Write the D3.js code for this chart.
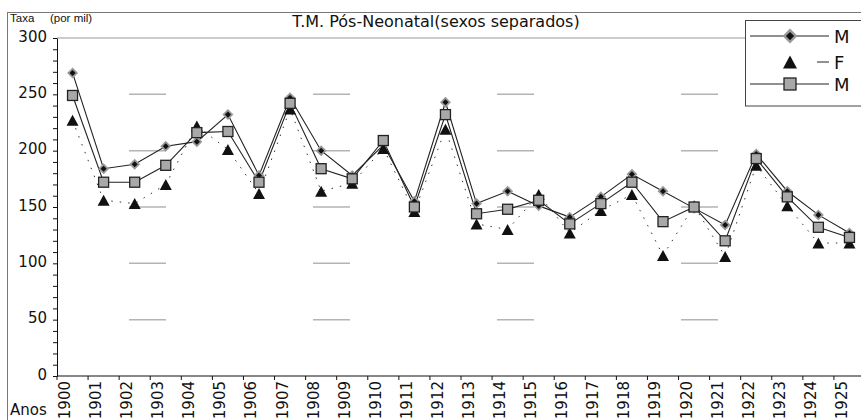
<!DOCTYPE html>
<html>
<head>
<meta charset="utf-8">
<script src="https://cdn.jsdelivr.net/npm/d3@7"></script>
<style>
  html, body { margin: 0; padding: 0; background: #fff; }
  svg { display: block; }
  text { font-family: "DejaVu Sans", sans-serif; fill: #111; }
</style>
</head>
<body>
<svg id="chart" width="861" height="420"></svg>
<script>
// ---- data ----
const years = ["1900","1901","1902","1903","1904","1905","1906","1907","1908","1909","1910","1911","1912",
               "1913","1914","1915","1916","1917","1918","1919","1920","1921","1922","1923","1924","1925"];
const maleA = [269,184,188,204,208,232,178,247,200,178,205,155,243,153,164,151,141,159,179,164,149,134,197,164,143,127];
const female = [227,156,153,170,222,201,162,237,164,171,202,146,219,135,130,161,127,147,161,107,151,106,187,151,118,118];
const maleB = [249,172,172,187,216,217,172,242,184,175,209,150,232,144,148,156,135,153,172,137,150,120,193,159,132,123];
const yTicks = d3.range(0, 301, 10);
const gridValues = [50, 100, 150, 200, 250];
const legendLabels = ["M", "F", "M"];
const titleText = "T.M. Pós-Neonatal(sexos separados)";
const yTitle1 = "Taxa", yTitle2 = "(por mil)", xTitle = "Anos";

(function () {
// ---- layout ----
const svg = d3.select("#chart");
const pLeft = 57, pRight = 865, pTop = 38, pBottom = 376;
const x = d3.scaleBand().domain(years).range([pLeft, pRight]);
const y = d3.scaleLinear().domain([0, 300]).range([pBottom, pTop]);
const cx = d => x(d) + x.bandwidth() / 2;

// outer frame
svg.append("line").attr("x1", 8).attr("x2", 861).attr("y1", 12.5).attr("y2", 12.5)
  .attr("stroke", "#777").attr("stroke-width", 1);
svg.append("line").attr("x1", 7.5).attr("x2", 7.5).attr("y1", 12).attr("y2", 420)
  .attr("stroke", "#777").attr("stroke-width", 1);

// plot top border
svg.append("line").attr("x1", pLeft).attr("x2", 861).attr("y1", y(300)).attr("y2", y(300))
  .attr("stroke", "#999").attr("stroke-width", 1.2);

// dashed grid segments
svg.append("g").selectAll("line").data(gridValues).join("line")
  .attr("x1", 129).attr("x2", 861)
  .attr("y1", d => y(d)).attr("y2", d => y(d))
  .attr("stroke", "#b4b4b4").attr("stroke-width", 1.5)
  .attr("stroke-dasharray", "37,147");

// titles
svg.append("text").attr("x", 436).attr("y", 27).attr("text-anchor", "middle")
  .style("font-size", "16px").text(titleText);
svg.append("text").attr("x", 10).attr("y", 22).style("font-family", "Liberation Sans, sans-serif")
  .style("font-size", "11.5px").text(yTitle1);
svg.append("text").attr("x", 50).attr("y", 22).style("font-family", "Liberation Sans, sans-serif")
  .style("font-size", "11.5px").text(yTitle2);
svg.append("text").attr("x", 10).attr("y", 415).style("font-size", "15px").text(xTitle);

// y axis
const yAxis = d3.axisLeft(y).tickValues(yTicks).tickSize(4).tickSizeOuter(0)
  .tickFormat(d => d % 50 === 0 ? d : "");
const gy = svg.append("g").attr("transform", `translate(${pLeft},0)`).call(yAxis);
gy.select(".domain").attr("stroke", "#111");
gy.selectAll(".tick line").attr("stroke", "#111");
gy.selectAll(".tick text").attr("x", -10).attr("dy", "0.2em")
  .style("font-family", "DejaVu Sans, sans-serif").style("font-size", "15px").attr("fill", "#111");

// x axis
svg.append("line").attr("x1", pLeft).attr("x2", 861).attr("y1", pBottom).attr("y2", pBottom)
  .attr("stroke", "#111").attr("stroke-width", 1);
svg.append("g").selectAll("line").data(years).join("line")
  .attr("x1", d => x(d)).attr("x2", d => x(d))
  .attr("y1", pBottom).attr("y2", pBottom + 4)
  .attr("stroke", "#111");
svg.append("g").selectAll("text").data(years).join("text")
  .attr("transform", d => `translate(${x(d) + 13},381) rotate(-90)`)
  .attr("text-anchor", "end")
  .style("font-size", "15px")
  .text(d => d);

// lines
const lineGen = vals => d3.line().x((v, i) => cx(years[i])).y(v => y(v))(vals);
svg.append("path").attr("d", lineGen(female)).attr("fill", "none")
  .attr("stroke", "#333").attr("stroke-width", 1).attr("stroke-dasharray", "1.5,7");
svg.append("path").attr("d", lineGen(maleA)).attr("fill", "none")
  .attr("stroke", "#222").attr("stroke-width", 1.1);
svg.append("path").attr("d", lineGen(maleB)).attr("fill", "none")
  .attr("stroke", "#222").attr("stroke-width", 1.1);

// marker helpers
function diamond(g, px, py, w) {
  const s = w / Math.SQRT2;
  g.append("rect").attr("x", -s / 2).attr("y", -s / 2).attr("width", s).attr("height", s)
    .attr("transform", `translate(${px},${py}) rotate(45)`).attr("fill", "#999");
  const s2 = s * 0.55;
  g.append("rect").attr("x", -s2 / 2).attr("y", -s2 / 2).attr("width", s2).attr("height", s2)
    .attr("transform", `translate(${px},${py}) rotate(45)`).attr("fill", "#111");
}
function triangle(g, px, py, w, h) {
  g.append("path").attr("d", `M${px},${py - h / 2} L${px + w / 2},${py + h / 2} L${px - w / 2},${py + h / 2} Z`)
    .attr("fill", "#111");
}
function square(g, px, py, s) {
  g.append("rect").attr("x", px - s / 2).attr("y", py - s / 2).attr("width", s).attr("height", s)
    .attr("fill", "#a8a8a8").attr("stroke", "#222").attr("stroke-width", 1.3);
}

const gm = svg.append("g");
maleA.forEach((v, i) => diamond(gm, cx(years[i]), y(v), 11));
female.forEach((v, i) => triangle(gm, cx(years[i]), y(v), 12, 11));
maleB.forEach((v, i) => square(gm, cx(years[i]), y(v), 10));

// legend
const lg = svg.append("g");
lg.append("rect").attr("x", 745.5).attr("y", 20.5).attr("width", 120).attr("height", 85.5)
  .attr("fill", "#fff").attr("stroke", "#444").attr("stroke-width", 1);
const rows = [36, 62, 84];
lg.append("line").attr("x1", 750).attr("x2", 829).attr("y1", rows[0]).attr("y2", rows[0])
  .attr("stroke", "#222").attr("stroke-width", 1);
diamond(lg, 790, rows[0], 15);
triangle(lg, 790, rows[1], 14, 13);
lg.append("line").attr("x1", 817).attr("x2", 829).attr("y1", rows[1]).attr("y2", rows[1])
  .attr("stroke", "#222").attr("stroke-width", 1);
lg.append("line").attr("x1", 750).attr("x2", 829).attr("y1", rows[2]).attr("y2", rows[2])
  .attr("stroke", "#222").attr("stroke-width", 1);
square(lg, 790, rows[2], 12);
lg.selectAll("text.leg").data(legendLabels).join("text").attr("class", "leg")
  .attr("x", 834).attr("y", (d, i) => rows[i] + 7)
  .style("font-size", "18px").text(d => d);
})();
</script>
</body>
</html>
